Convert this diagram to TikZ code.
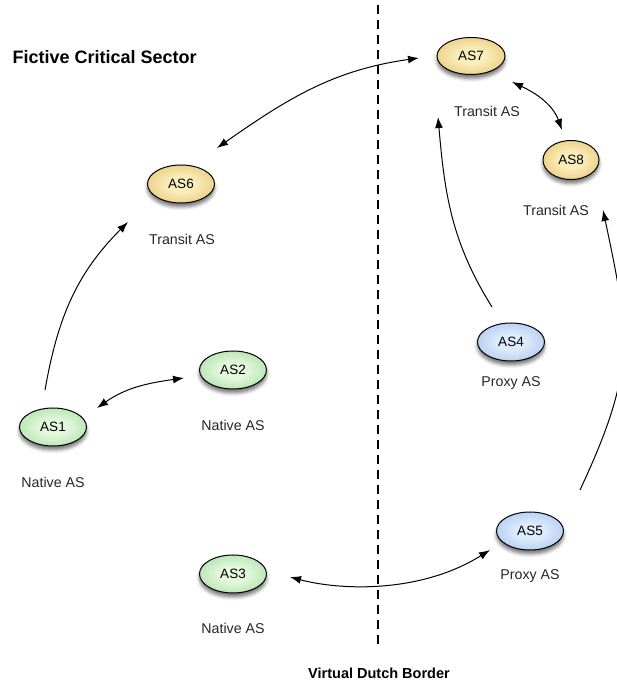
\documentclass[tikz,border=0pt]{standalone}
\usepackage{fontspec}
\setmainfont{Liberation Sans}
\usetikzlibrary{shapes.geometric,arrows.meta,shadows.blur}

\definecolor{goldin}{HTML}{FAEDBC}
\definecolor{goldout}{HTML}{D8A83C}
\definecolor{greenin}{HTML}{E3F8DD}
\definecolor{greenout}{HTML}{7DCA79}
\definecolor{bluein}{HTML}{DEEBFC}
\definecolor{blueout}{HTML}{7EA9E6}
\pgfdeclareradialshading{goldball}{\pgfpoint{0bp}{0bp}}{color(0bp)=(goldin); color(10bp)=(goldin); color(50bp)=(goldout)}
\pgfdeclareradialshading{greenball}{\pgfpoint{0bp}{0bp}}{color(0bp)=(greenin); color(10bp)=(greenin); color(50bp)=(greenout)}
\pgfdeclareradialshading{blueball}{\pgfpoint{0bp}{0bp}}{color(0bp)=(bluein); color(10bp)=(bluein); color(50bp)=(blueout)}

\begin{document}
\begin{tikzpicture}[x=1pt,y=1pt,
        as/.style = {shape=ellipse, draw=black, line width=1pt,
          minimum width=67pt, minimum height=38pt, inner sep=0pt,
          font=\fontsize{13.5}{15}\selectfont,
          blur shadow={shadow xshift=0pt, shadow yshift=-4pt,
            shadow blur radius=3.5pt, shadow opacity=55}},
        transit/.style = {as, shading=goldball},
        native/.style = {as, shading=greenball},
        proxy/.style = {as, shading=blueball},
        caption/.style = {font=\fontsize{14.2}{16}\selectfont, text=black!85},
        link/.style = {-{Latex[length=11pt,width=8pt]}, line width=1pt},
        duplex/.style = {{Latex[length=11pt,width=8pt]}-{Latex[length=11pt,width=8pt]},
          line width=1pt}]
        \useasboundingbox (0,0) rectangle (616,682);

        \node[native] (as1) at (53,255) {AS1};
        \node[native] (as2) at (233,312) {AS2};
        \node[native] (as3) at (233,108) {AS3};
        \node[proxy] (as4) at (511,340) {AS4};
        \node[proxy] (as5) at (530,151) {AS5};
        \node[transit] (as6) at (181,498) {AS6};
        \node[transit, minimum width=68pt, minimum height=37pt] (as7) at (471,626) {AS7};
        \node[transit, minimum width=56pt, minimum height=39pt] (as8) at (571,522) {AS8};

        \node[caption] (as1lbl) at (53,200) {Native AS};
        \node[caption] (as2lbl) at (233,257) {Native AS};
        \node[caption] (as3lbl) at (233,54) {Native AS};
        \node[caption] (as4lbl) at (511,299) {Proxy AS};
        \node[caption] (as5lbl) at (530,106) {Proxy AS};
        \node[caption] (as6lbl) at (182,443) {Transit AS};
        \node[caption] (as7lbl) at (487,571) {Transit AS};
        \node[caption] (as8lbl) at (556,472) {Transit AS};

        \node[anchor=west, font=\bfseries\fontsize{18}{20}\selectfont] (sector) at (9,625) {Fictive Critical Sector};
        \node[font=\bfseries\fontsize{14.5}{16}\selectfont] (border) at (379,9) {Virtual Dutch Border};
        \coordinate (bordertop) at (378,677);
        \coordinate (borderend) at (378,34);
        \draw[line width=2pt, dash pattern=on 9pt off 6pt] (bordertop) -- (borderend);

        \draw[link] ([shift={(-8,37)}]as1.center) to[out=80,in=225] ([shift={(-53,-38)}]as6.center);
        \draw[duplex] ([shift={(44,19)}]as1.center) to[out=35,in=188] ([shift={(-49,-8)}]as2.center);
        \draw[duplex] ([shift={(36,36)}]as6.center) to[out=35,in=188] ([shift={(-52,-2)}]as7.center);
        \draw[duplex] ([shift={(41,-26)}]as7.center) to[out=-25,in=110] ([shift={(-9,30)}]as8.center);
        \draw[link] ([shift={(-19,35)}]as4.center) to[out=122,in=-85] ([shift={(-33,-61)}]as7.center);
        \draw[link] ([shift={(50,41)}]as5.center) to[out=65,in=-78,looseness=1.2] ([shift={(32,-50)}]as8.center);
        \draw[duplex] ([shift={(57,-3)}]as3.center) to[out=-15,in=212,out looseness=0.65,in looseness=1.05] ([shift={(-40,-19)}]as5.center);
      \end{tikzpicture}
\end{document}
